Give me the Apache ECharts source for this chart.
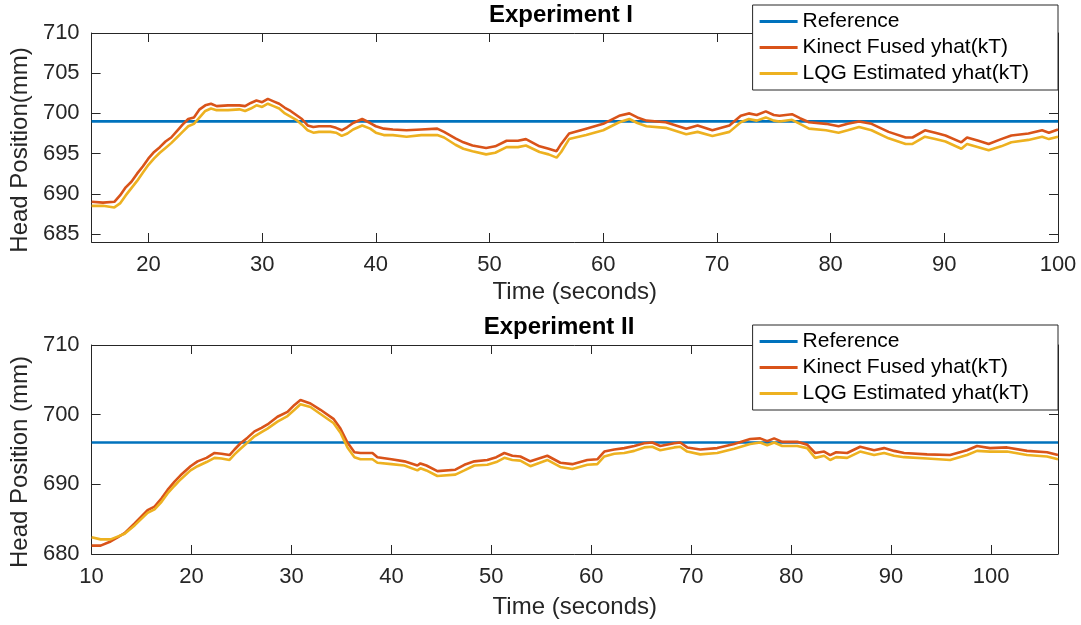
<!DOCTYPE html>
<html>
<head>
<meta charset="utf-8">
<script src="https://cdn.jsdelivr.net/npm/echarts@6/dist/echarts.min.js"></script>
<style>
  html, body { margin: 0; padding: 0; background: #fff; }
  #chart { width: 1081px; height: 625px; }
</style>
</head>
<body>
<div id="chart"></div>
<script>
// Experiment I
const time1 = [15, 16, 17, 17.5, 18, 18.5, 19, 19.5, 20, 20.5, 21, 21.5, 22, 22.5, 23, 23.5, 24, 24.5, 25, 25.5, 26, 27, 28, 28.5, 29, 29.5, 30, 30.5, 31, 31.5, 32, 32.5, 33, 33.5, 34, 34.5, 35, 36, 36.5, 37, 37.5, 38, 38.8, 39.5, 40, 40.7, 41.5, 42.7, 44, 45.4, 46, 47, 47.7, 48.5, 49.7, 50.5, 51.5, 52.5, 53.2, 54.4, 55.2, 55.9, 56.3, 57, 58.5, 60, 61.4, 62.3, 63, 63.8, 65.5, 67.3, 68.3, 69.6, 71.1, 72.1, 72.8, 73.5, 74.3, 75, 75.5, 76.6, 77.3, 78.1, 79.6, 80.7, 81.5, 82.5, 83.6, 85.1, 86.6, 87.2, 88.3, 89.2, 90.1, 91.5, 92, 93, 93.9, 95, 95.9, 97.4, 98.6, 99.2, 100];
const kinect1 = [689.0, 688.9, 689.0, 689.8, 690.8, 691.5, 692.5, 693.4, 694.4, 695.2, 695.8, 696.5, 697.0, 697.8, 698.6, 699.3, 699.5, 700.5, 701.0, 701.2, 700.9, 701.0, 701.0, 700.9, 701.3, 701.6, 701.4, 701.8, 701.5, 701.2, 700.7, 700.3, 699.8, 699.3, 698.5, 698.3, 698.4, 698.4, 698.2, 697.9, 698.3, 698.8, 699.3, 698.8, 698.4, 698.1, 698.0, 697.9, 698.0, 698.1, 697.7, 696.9, 696.4, 696.0, 695.7, 695.9, 696.6, 696.6, 696.8, 695.9, 695.6, 695.3, 696.2, 697.5, 698.1, 698.7, 699.7, 700.0, 699.5, 699.1, 698.9, 698.1, 698.5, 697.9, 698.5, 699.7, 700.0, 699.8, 700.25, 699.8, 699.7, 699.9, 699.4, 698.9, 698.7, 698.4, 698.7, 699.0, 698.7, 697.7, 697.0, 697.0, 697.9, 697.6, 697.25, 696.4, 697.0, 696.6, 696.2, 696.8, 697.25, 697.5, 697.9, 697.6, 698.0];
const lqg1 = [688.5, 688.5, 688.3, 688.8, 689.8, 690.7, 691.6, 692.6, 693.6, 694.4, 695.1, 695.7, 696.3, 697.0, 697.7, 698.4, 698.7, 699.5, 700.3, 700.6, 700.4, 700.4, 700.5, 700.3, 700.6, 701.0, 700.8, 701.2, 700.9, 700.6, 700.0, 699.6, 699.2, 698.6, 697.9, 697.6, 697.7, 697.7, 697.6, 697.2, 697.5, 698.0, 698.5, 698.1, 697.6, 697.3, 697.3, 697.1, 697.3, 697.3, 697.0, 696.1, 695.6, 695.3, 694.9, 695.1, 695.8, 695.8, 696.0, 695.2, 694.9, 694.5, 695.2, 696.8, 697.3, 697.9, 698.9, 699.3, 698.8, 698.4, 698.2, 697.4, 697.7, 697.2, 697.7, 698.9, 699.3, 699.1, 699.5, 699.1, 699.0, 699.2, 698.7, 698.1, 697.9, 697.6, 697.9, 698.3, 697.9, 696.9, 696.2, 696.2, 697.1, 696.8, 696.5, 695.6, 696.2, 695.8, 695.4, 695.9, 696.4, 696.7, 697.1, 696.8, 697.1];
const refTime1 = [15, 100];
const refValue1 = 699;

// Experiment II
const time2 = [10, 10.9, 11.9, 12.6, 13.3, 14.3, 15.6, 16.3, 17, 17.6, 18.3, 18.9, 19.9, 20.6, 21.5, 22.3, 23, 23.8, 24.3, 24.9, 25.6, 26.3, 27, 27.6, 28.6, 29.6, 30.3, 30.9, 31.9, 32.9, 34.2, 34.9, 35.6, 36.3, 36.9, 38.1, 38.6, 40, 41.3, 42.6, 42.9, 43.5, 44.6, 46.4, 47.3, 48.3, 49.6, 50.5, 51.3, 52.1, 52.9, 53.9, 55.6, 56.9, 58.1, 59.6, 60.6, 61.3, 62.3, 63.3, 64.3, 65.3, 66.1, 66.9, 68.3, 68.9, 69.6, 70.9, 72.6, 74.3, 75.9, 76.9, 77.6, 78.3, 79.1, 80.6, 81.6, 82.4, 83.3, 83.9, 84.5, 85.6, 86.9, 88.3, 89.3, 90.3, 91.3, 93.6, 95.9, 97.6, 98.6, 99.9, 101.6, 103.6, 105.6, 106.7];
const kinect2 = [681.2, 681.2, 681.8, 682.4, 683.0, 684.4, 686.3, 686.8, 688.0, 689.2, 690.4, 691.3, 692.6, 693.3, 693.8, 694.5, 694.4, 694.2, 695.0, 695.9, 696.7, 697.6, 698.1, 698.6, 699.7, 700.4, 701.4, 702.1, 701.6, 700.7, 699.4, 698.0, 696.0, 694.6, 694.5, 694.5, 693.9, 693.6, 693.3, 692.7, 693.0, 692.7, 691.9, 692.1, 692.8, 693.3, 693.5, 693.9, 694.5, 694.1, 694.0, 693.3, 694.1, 693.1, 692.9, 693.5, 693.6, 694.7, 695.0, 695.2, 695.5, 695.9, 696.0, 695.5, 695.9, 696.0, 695.3, 695.0, 695.2, 695.8, 696.5, 696.6, 696.2, 696.6, 696.1, 696.1, 695.7, 694.5, 694.7, 694.2, 694.6, 694.5, 695.4, 694.9, 695.2, 694.8, 694.5, 694.3, 694.2, 694.9, 695.5, 695.2, 695.3, 694.8, 694.6, 694.2];
const lqg2 = [682.4, 682.1, 682.1, 682.5, 682.9, 684.1, 685.9, 686.4, 687.5, 688.7, 689.8, 690.7, 692.0, 692.6, 693.2, 693.8, 693.7, 693.5, 694.3, 695.1, 696.0, 696.9, 697.5, 698.0, 699.0, 699.8, 700.7, 701.5, 701.1, 700.1, 698.8, 697.4, 695.3, 693.9, 693.6, 693.6, 693.1, 692.9, 692.7, 692.0, 692.3, 692.0, 691.2, 691.4, 692.0, 692.7, 692.8, 693.2, 693.8, 693.5, 693.4, 692.6, 693.5, 692.5, 692.2, 692.8, 692.9, 694.0, 694.4, 694.5, 694.8, 695.3, 695.4, 694.9, 695.3, 695.4, 694.7, 694.3, 694.5, 695.1, 695.8, 696.0, 695.6, 696.0, 695.5, 695.5, 695.2, 693.8, 694.1, 693.5, 693.9, 693.8, 694.7, 694.2, 694.5, 694.1, 693.9, 693.7, 693.5, 694.2, 694.8, 694.7, 694.7, 694.2, 694.0, 693.6];
const refTime2 = [10, 106.7];
const refValue2 = 696;

// tick labels
const xTicks1 = [20, 30, 40, 50, 60, 70, 80, 90, 100];
const yTicks1 = [685, 690, 695, 700, 705, 710];
const xTicks2 = [10, 20, 30, 40, 50, 60, 70, 80, 90, 100];
const yTicks2 = [680, 690, 700, 710];

const seriesNames = ['Reference', 'Kinect Fused yhat(kT)', 'LQG Estimated yhat(kT)'];
const colors = ['#0072BD', '#D95319', '#EDB120'];

const FONT = 'Liberation Sans, Arial, Helvetica, sans-serif';
const AXIS_COLOR = '#262626';

const zip = (xs, ys) => xs.map((x, i) => [x, ys[i]]);

const boxAxis = (grid, pos, min, max, ticks, withLabels, name) => ({
  gridIndex: grid,
  type: 'value',
  position: pos,
  min: min,
  max: max,
  name: name || '',
  nameLocation: 'middle',
  splitLine: { show: false },
  axisLine: { show: true, onZero: false, lineStyle: { color: AXIS_COLOR, width: 1 } },
  axisTick: { show: true, inside: true, length: 9, customValues: ticks, lineStyle: { color: AXIS_COLOR } },
  axisLabel: {
    show: withLabels,
    customValues: ticks,
    color: AXIS_COLOR,
    fontFamily: FONT,
    fontSize: 22,
    margin: 12,
  },
  nameTextStyle: { color: AXIS_COLOR, fontFamily: FONT, fontSize: 24 },
});

const lineSeries = (name, data, xi, yi, color) => ({
  name: name,
  type: 'line',
  xAxisIndex: xi,
  yAxisIndex: yi,
  data: data,
  showSymbol: false,
  symbol: 'none',
  lineStyle: { color: color, width: 2.6 },
  itemStyle: { color: color },
  emphasis: { disabled: true },
});

const legendBox = top => ({
  orient: 'vertical',
  top: top,
  right: 23,
  data: seriesNames,
  icon: 'rect',
  itemWidth: 38,
  itemHeight: 3,
  itemGap: 5,
  padding: [6, 29, 6, 7],
  backgroundColor: '#fff',
  borderColor: AXIS_COLOR,
  borderWidth: 1,
  textStyle: { color: '#000', fontFamily: FONT, fontSize: 21, lineHeight: 21 },
});

const myChart = echarts.init(document.getElementById('chart'), null, { renderer: 'canvas' });

const yName = { color: AXIS_COLOR, fontFamily: FONT, fontSize: 24, padding: [0, 25, 0, 0] };

const option = {
  animation: false,
  backgroundColor: '#fff',
  title: [
    { text: 'Experiment I', left: 556, top: -2, textAlign: 'center',
      textStyle: { fontFamily: FONT, fontSize: 24, fontWeight: 'bold', color: '#000' } },
    { text: 'Experiment II', left: 554, top: 310, textAlign: 'center',
      textStyle: { fontFamily: FONT, fontSize: 24, fontWeight: 'bold', color: '#000' } },
  ],
  legend: [legendBox(5), legendBox(325)],
  grid: [
    { left: 91, right: 23, top: 33, height: 209, show: false },
    { left: 91, right: 23, top: 345, height: 209, show: false },
  ],
  xAxis: [
    Object.assign(boxAxis(0, 'bottom', 15, 100, xTicks1, true, 'Time (seconds)'), { nameGap: 38 }),
    boxAxis(0, 'top', 15, 100, xTicks1, false),
    Object.assign(boxAxis(1, 'bottom', 10, 106.7, xTicks2, true, 'Time (seconds)'), { nameGap: 41 }),
    boxAxis(1, 'top', 10, 106.7, xTicks2, false),
  ],
  yAxis: [
    Object.assign(boxAxis(0, 'left', 684, 710, yTicks1, true, 'Head Position(mm)'), { nameGap: 58, nameTextStyle: yName }),
    boxAxis(0, 'right', 684, 710, yTicks1, false),
    Object.assign(boxAxis(1, 'left', 680, 710, yTicks2, true, 'Head Position (mm)'), { nameGap: 58, nameTextStyle: yName }),
    boxAxis(1, 'right', 680, 710, yTicks2, false),
  ],
  series: [
    lineSeries(seriesNames[0], refTime1.map(t => [t, refValue1]), 0, 0, colors[0]),
    lineSeries(seriesNames[1], zip(time1, kinect1), 0, 0, colors[1]),
    lineSeries(seriesNames[2], zip(time1, lqg1), 0, 0, colors[2]),
    lineSeries(seriesNames[0], refTime2.map(t => [t, refValue2]), 2, 2, colors[0]),
    lineSeries(seriesNames[1], zip(time2, kinect2), 2, 2, colors[1]),
    lineSeries(seriesNames[2], zip(time2, lqg2), 2, 2, colors[2]),
  ],
};

myChart.setOption(option);
</script>
</body>
</html>
